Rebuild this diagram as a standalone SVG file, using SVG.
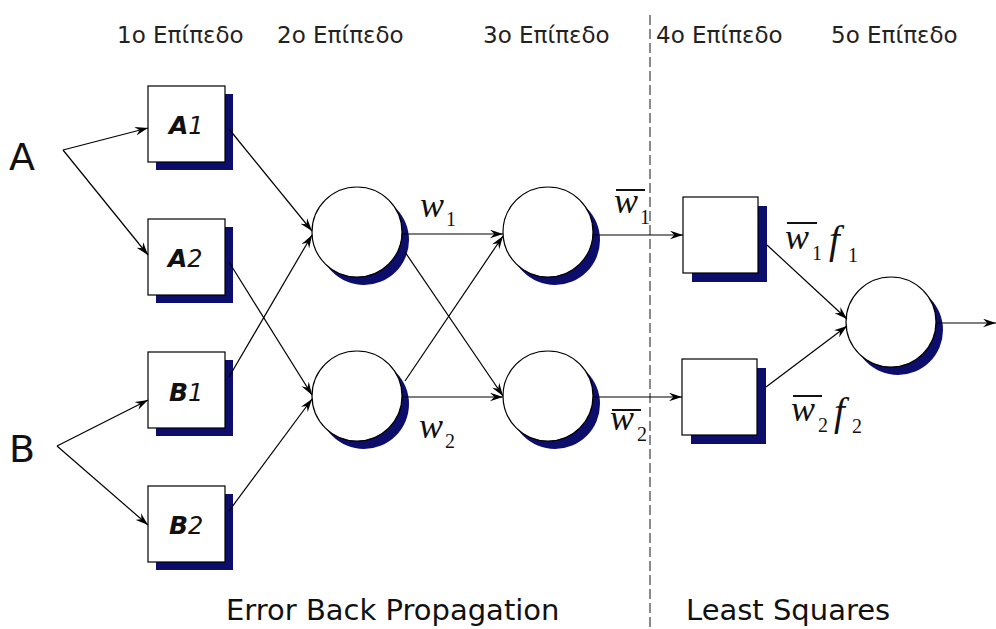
<svg xmlns="http://www.w3.org/2000/svg" width="996" height="629" viewBox="0 0 996 629">
<defs>
<style>
.box{fill:#fff;stroke:#000;stroke-width:1.2}
.shd{fill:#0d0d6b}
.cir{fill:#fff;stroke:#000;stroke-width:1.2}
.ln{fill:none;stroke:#000;stroke-width:1.2}
.lvl{font-family:"DejaVu Sans",sans-serif;font-size:23px;fill:#222}
.big{font-family:"DejaVu Sans",sans-serif;font-size:38px;fill:#111}
.bl{font-family:"DejaVu Sans",sans-serif;font-size:29px;fill:#111}
.nl{font-family:"DejaVu Sans",sans-serif;font-size:25px;font-weight:bold;font-style:italic;fill:#111}
.nl tspan{font-weight:normal;font-size:24px}
.w{font-family:"Liberation Serif","Times New Roman",serif;font-size:36px;font-style:italic;fill:#111}
.f{font-family:"Liberation Serif","Times New Roman",serif;font-size:39px;font-style:italic;fill:#111}
.sub{font-family:"Liberation Serif","Times New Roman",serif;font-size:20px;fill:#111}
.bar{stroke:#111;stroke-width:2}
</style>
<marker id="ah" viewBox="0 0 12 8" refX="12" refY="4" markerWidth="13" markerHeight="9" markerUnits="userSpaceOnUse" orient="auto">
<path d="M0,0 L12,4 L0,8 L4,4 z" fill="#000"/>
</marker>
</defs>
<rect width="996" height="629" fill="#fff"/>

<g id="levels">
<text class="lvl" x="117" y="43">1ο Επίπεδο</text>
<text class="lvl" x="277" y="43">2ο Επίπεδο</text>
<text class="lvl" x="483" y="43">3ο Επίπεδο</text>
<text class="lvl" x="656" y="43">4ο Επίπεδο</text>
<text class="lvl" x="831" y="43">5ο Επίπεδο</text>
</g>

<line id="divider" x1="650" y1="15" x2="650" y2="629" stroke="#8a8a8a" stroke-width="2" stroke-dasharray="10 4"/>

<g id="inputA"><text class="big" x="9" y="170">A</text></g>
<g id="inputB"><text class="big" x="9" y="462">B</text></g>

<g id="A1">
<rect class="shd" x="156" y="94" width="77" height="76"/>
<rect class="box" x="148" y="86" width="77" height="76"/>
<text class="nl" x="169" y="134">A<tspan>1</tspan></text>
</g>
<g id="A2">
<rect class="shd" x="156" y="227" width="77" height="76"/>
<rect class="box" x="148" y="219" width="77" height="76"/>
<text class="nl" x="168" y="267">A<tspan>2</tspan></text>
</g>
<g id="B1">
<rect class="shd" x="156" y="360" width="77" height="76"/>
<rect class="box" x="148" y="352" width="77" height="76"/>
<text class="nl" x="169" y="401">B<tspan>1</tspan></text>
</g>
<g id="B2">
<rect class="shd" x="156" y="494" width="77" height="76"/>
<rect class="box" x="148" y="486" width="77" height="76"/>
<text class="nl" x="169" y="534">B<tspan>2</tspan></text>
</g>

<g id="C1">
<circle class="shd" cx="364" cy="240" r="45"/>
<circle class="cir" cx="357" cy="232" r="45"/>
</g>
<g id="C2">
<circle class="shd" cx="364" cy="404" r="45"/>
<circle class="cir" cx="357" cy="396" r="45"/>
</g>
<g id="C3">
<circle class="shd" cx="555" cy="240" r="45"/>
<circle class="cir" cx="548" cy="232" r="45"/>
</g>
<g id="C4">
<circle class="shd" cx="555" cy="404" r="45"/>
<circle class="cir" cx="548" cy="396" r="45"/>
</g>

<g id="D1">
<rect class="shd" x="692" y="206" width="75" height="76"/>
<rect class="box" x="683" y="197" width="75" height="76"/>
</g>
<g id="D2">
<rect class="shd" x="691" y="368" width="75" height="76"/>
<rect class="box" x="682" y="359" width="75" height="76"/>
</g>

<g id="E">
<circle class="shd" cx="898" cy="330" r="45"/>
<circle class="cir" cx="891" cy="322" r="45"/>
</g>

<g id="connectors">
<path class="ln" d="M63,150 L148,128" marker-end="url(#ah)"/>
<path class="ln" d="M63,150 L148,255" marker-end="url(#ah)"/>
<path class="ln" d="M57,446 L148,400" marker-end="url(#ah)"/>
<path class="ln" d="M57,446 L148,525" marker-end="url(#ah)"/>
<path class="ln" d="M229,129 L312,231" marker-end="url(#ah)"/>
<path class="ln" d="M229,377 L312,235" marker-end="url(#ah)"/>
<path class="ln" d="M229,262 L312,395" marker-end="url(#ah)"/>
<path class="ln" d="M229,511 L312,399" marker-end="url(#ah)"/>
<path class="ln" d="M402,234 L503,234" marker-end="url(#ah)"/>
<path class="ln" d="M405,252 L503,396" marker-end="url(#ah)"/>
<path class="ln" d="M405,381 L503,236" marker-end="url(#ah)"/>
<path class="ln" d="M402,397 L503,397" marker-end="url(#ah)"/>
<path class="ln" d="M593,235 L683,235" marker-end="url(#ah)"/>
<path class="ln" d="M593,397 L682,397" marker-end="url(#ah)"/>
<path class="ln" d="M767,245 L847,319" marker-end="url(#ah)"/>
<path class="ln" d="M766,387 L847,326" marker-end="url(#ah)"/>
<path class="ln" d="M936,323 L996,323" marker-end="url(#ah)"/>
</g>

<g id="weights">
<text class="w" x="420" y="217">w</text><text class="sub" x="446" y="226">1</text>
<text class="w" x="419" y="438">w</text><text class="sub" x="445" y="448">2</text>
<line class="bar" x1="616" y1="190" x2="645" y2="190"/>
<text class="w" x="614" y="213">w</text><text class="sub" x="640" y="224">1</text>
<line class="bar" x1="612" y1="410" x2="641" y2="410"/>
<text class="w" x="610" y="430">w</text><text class="sub" x="637" y="441">2</text>
<line class="bar" x1="787" y1="223" x2="817" y2="223"/>
<text class="w" x="785" y="249">w</text><text class="sub" x="812" y="260">1</text>
<text class="f" x="829" y="253">f</text><text class="sub" x="848" y="262">1</text>
<line class="bar" x1="793" y1="396" x2="822" y2="396"/>
<text class="w" x="791" y="421">w</text><text class="sub" x="818" y="432">2</text>
<text class="f" x="834" y="425">f</text><text class="sub" x="852" y="433">2</text>
</g>

<g id="methods">
<text class="bl" x="226" y="620">Error Back Propagation</text>
<text class="bl" x="686" y="620">Least Squares</text>
</g>
</svg>
